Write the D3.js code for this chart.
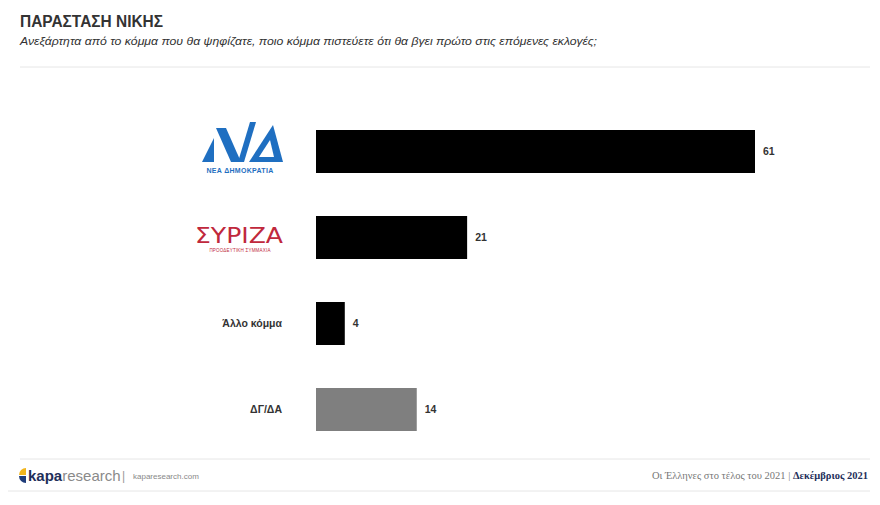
<!DOCTYPE html>
<html><head><meta charset="utf-8">
<script src="https://cdn.jsdelivr.net/npm/d3@7"></script>
<style>
html,body{margin:0;padding:0;background:#fff;}
svg{display:block;font-family:"Liberation Sans",Arial,sans-serif;}
</style></head>
<body>
<svg id="chart" width="880" height="505"></svg>
<script>
const categories = ["ΝΔ", "ΣΥΡΙΖΑ", "Άλλο κόμμα", "ΔΓ/ΔΑ"];
const values = [61, 21, 4, 14];
const barColors = ["#000000", "#000000", "#000000", "#7f7f7f"];
const title = "ΠΑΡΑΣΤΑΣΗ ΝΙΚΗΣ";
const subtitle = "Ανεξάρτητα από το κόμμα που θα ψηφίζατε, ποιο κόμμα πιστεύετε ότι θα βγει πρώτο στις επόμενες εκλογές;";
const footLeft = "kaparesearch.com";
const footRight1 = "Οι Έλληνες στο τέλος του 2021 | ";
const footRight2 = "Δεκέμβριος 2021";

const svg = d3.select("#chart");
svg.append("rect").attr("width",880).attr("height",505).attr("fill","#fff");

// Header
svg.append("text").attr("x",20).attr("y",27).attr("fill","#333")
  .attr("font-size",16).attr("font-weight","bold")
  .attr("textLength",143).attr("lengthAdjust","spacingAndGlyphs")
  .text(title);
svg.append("text").attr("x",20).attr("y",45).attr("fill","#333")
  .attr("font-size",11.5).attr("font-style","italic")
  .attr("textLength",577).attr("lengthAdjust","spacingAndGlyphs")
  .text(subtitle);
svg.append("line").attr("x1",20).attr("x2",870).attr("y1",67).attr("y2",67)
  .attr("stroke","#e6e6e6").attr("stroke-width",1);

// Scales
const x = d3.scaleLinear().domain([0, 61]).range([316, 755]);
const y = d3.scaleBand().domain(categories).range([108.5, 452.5])
  .paddingInner(0.5).paddingOuter(0.25);

const data = categories.map((c,i)=>({c, v:values[i], col:barColors[i]}));

svg.append("g").selectAll("rect").data(data).join("rect")
  .attr("x", x(0)).attr("y", d=>y(d.c))
  .attr("width", d=>x(d.v)-x(0)).attr("height", y.bandwidth())
  .attr("fill", d=>d.col);

svg.append("g").selectAll("text").data(data).join("text")
  .attr("x", d=>x(d.v)+8).attr("y", d=>y(d.c)+y.bandwidth()/2)
  .attr("dy","0.35em").attr("font-size",10.5).attr("font-weight","bold")
  .attr("fill","#333").text(d=>d.v);

// Text category labels
[2,3].forEach(i=>{
  svg.append("text").attr("x",282).attr("y",y(categories[i])+y.bandwidth()/2)
    .attr("dy","0.35em").attr("text-anchor","end").attr("font-size",10.5)
    .attr("font-weight","bold").attr("fill","#333").text(categories[i]);
});

// ND logo
(function(){
  const cy = y(categories[0]) + y.bandwidth()/2;
  const g = svg.append("g").attr("transform",`translate(0,${cy-151.5})`);
  const blue = "#1f6fc1";
  const polys = [
    [[202,162],[214,162],[214,138]],
    [[216,128],[226,128],[241,162],[231,162]],
    [[238,162],[244,162],[256,122],[250,122]],
    [[249,162],[283,162],[273,125]]
  ];
  polys.forEach(p=>g.append("polygon").attr("points",p.map(q=>q.join(",")).join(" ")).attr("fill",blue));
  g.append("polygon").attr("points","259,157 274,157 270,140").attr("fill","#fff");
  g.append("text").attr("x",240).attr("y",173).attr("text-anchor","middle")
    .attr("font-size",7).attr("font-weight","bold").attr("fill",blue)
    .attr("letter-spacing","0.3").text("ΝΕΑ ΔΗΜΟΚΡΑΤΙΑ");
})();

// SYRIZA logo
(function(){
  const cy = y(categories[1]) + y.bandwidth()/2;
  const g = svg.append("g").attr("transform",`translate(0,${cy-238.5})`);
  const red = "#c0283c";
  g.append("text").attr("x",195).attr("y",244).attr("font-size",22)
    .attr("font-family","'DejaVu Sans',sans-serif")
    .attr("fill",red).attr("textLength",88).attr("lengthAdjust","spacingAndGlyphs")
    .text("ΣΥΡΙΖΑ");
  g.append("text").attr("x",240).attr("y",253).attr("text-anchor","middle")
    .attr("font-size",4.5).attr("fill",red).attr("letter-spacing","0.2")
    .text("ΠΡΟΟΔΕΥΤΙΚΗ ΣΥΜΜΑΧΙΑ");
})();

// Footer
svg.append("line").attr("x1",20).attr("x2",870).attr("y1",459).attr("y2",459)
  .attr("stroke","#e6e6e6");
svg.append("line").attr("x1",8).attr("x2",870).attr("y1",491).attr("y2",491)
  .attr("stroke","#e6e6e6");
const lg = svg.append("g");
lg.append("path").attr("d","M26,468 A7,7 0 0 0 19,475 L26,475 Z").attr("fill","#f2b51c");
lg.append("path").attr("d","M19,476 A7,7 0 0 0 26,483 L26,476 Z").attr("fill","#1f3c7a");
const kt = lg.append("text").attr("x",28).attr("y",481).attr("font-size",15);
kt.append("tspan").attr("font-weight","bold").attr("fill","#1f2f5a").text("kapa");
kt.append("tspan").attr("fill","#8a8a8a").attr("font-family","'Liberation Sans Narrow','Liberation Sans',sans-serif").text("research");
lg.append("text").attr("x",122).attr("y",480).attr("font-size",12).attr("fill","#999").text("|");
lg.append("text").attr("x",133).attr("y",479).attr("font-size",8).attr("fill","#888").text(footLeft);

const fr = svg.append("text").attr("x",868).attr("y",479).attr("text-anchor","end")
  .attr("font-size",10.5).attr("font-family","'Liberation Serif','DejaVu Serif',serif");
fr.append("tspan").attr("fill","#777").text(footRight1);
fr.append("tspan").attr("fill","#1f2f5a").attr("font-weight","bold").text(footRight2);
</script>
</body></html>
